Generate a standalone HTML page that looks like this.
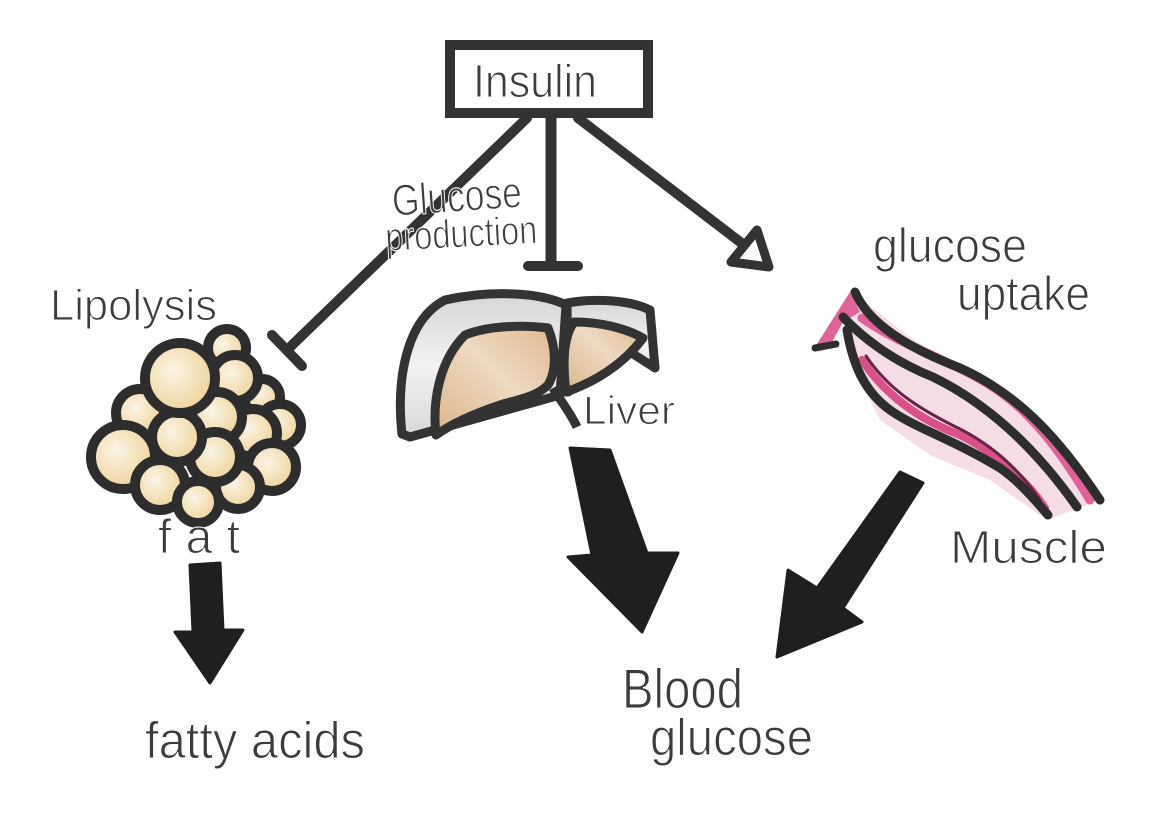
<!DOCTYPE html>
<html>
<head>
<meta charset="utf-8">
<style>
html,body{margin:0;padding:0;background:#fff;}
svg{display:block;}
text{font-family:"Liberation Sans",sans-serif;fill:#3c3c3c;stroke:#fff;stroke-width:1.1px;paint-order:normal;}
</style>
</head>
<body>
<svg width="1150" height="836" viewBox="0 0 1150 836" xmlns="http://www.w3.org/2000/svg">
<defs>
  <radialGradient id="fatg" cx="40%" cy="40%" r="65%">
    <stop offset="0" stop-color="#fbf4e6"/>
    <stop offset="0.6" stop-color="#f3dfb4"/>
    <stop offset="1" stop-color="#ecd09a"/>
  </radialGradient>
  <linearGradient id="livg" x1="0" y1="1" x2="1" y2="0">
    <stop offset="0" stop-color="#dcb68a"/>
    <stop offset="0.55" stop-color="#eed9c2"/>
    <stop offset="1" stop-color="#dfb98e"/>
  </linearGradient>
  <linearGradient id="greyg" x1="0" y1="0" x2="0" y2="1">
    <stop offset="0" stop-color="#d6d6d6"/>
    <stop offset="0.5" stop-color="#f2f2f2"/>
    <stop offset="1" stop-color="#d8d8d8"/>
  </linearGradient>
</defs>
<rect width="1150" height="836" fill="#fff"/>

<!-- Insulin box -->
<rect x="450" y="45" width="198" height="68" fill="#fff" stroke="#333" stroke-width="10"/>
<text x="473" y="97" font-size="46" textLength="124" lengthAdjust="spacingAndGlyphs">Insulin</text>

<!-- connectors -->
<g stroke="#333" stroke-linecap="round" fill="none">
  <line x1="527" y1="118" x2="287" y2="350" stroke-width="10"/>
  <line x1="272" y1="335" x2="302" y2="366" stroke-width="10"/>
  <line x1="551" y1="117" x2="551" y2="265" stroke-width="11"/>
  <line x1="528" y1="266" x2="578" y2="266" stroke-width="10"/>
  <line x1="578" y1="118" x2="748" y2="248" stroke-width="10"/>
  <polygon points="757,230 769,267 731,262" fill="#fff" stroke-width="9" stroke-linejoin="round"/>
</g>

<text transform="translate(393,216) rotate(-4)" font-size="44" textLength="130" lengthAdjust="spacingAndGlyphs">Glucose</text>
<text transform="translate(386,251) rotate(-3)" font-size="40" textLength="152" lengthAdjust="spacingAndGlyphs">production</text>

<!-- Lipolysis label -->
<text x="50" y="320" font-size="44" textLength="167" lengthAdjust="spacingAndGlyphs">Lipolysis</text>

<!-- fat cells -->
<g stroke="#2d2d2d" stroke-width="10" fill="url(#fatg)">
  <circle cx="227" cy="348" r="19"/>
  <circle cx="262" cy="397" r="18"/>
  <circle cx="235" cy="378" r="23"/>
  <circle cx="280" cy="425" r="21"/>
  <circle cx="253" cy="433" r="24"/>
  <circle cx="272" cy="467" r="24"/>
  <circle cx="238" cy="487" r="22"/>
  <circle cx="217" cy="417" r="25"/>
  <circle cx="215" cy="457" r="25"/>
  <circle cx="140" cy="413" r="24"/>
  <circle cx="177" cy="437" r="25"/>
  <circle cx="123" cy="457" r="32"/>
  <circle cx="160" cy="485" r="25"/>
  <circle cx="198" cy="502" r="21"/>
  <circle cx="180" cy="378" r="35"/>
</g>

<text x="158" y="553" font-size="48" textLength="82" lengthAdjust="spacing">fat</text>

<!-- fat arrow -->
<polygon points="190,565 220,563 223,630 243,630 210,683 175,632 193,632" fill="#1f1f1f" stroke="#1f1f1f" stroke-width="3" stroke-linejoin="round"/>
<text x="145" y="758" font-size="52" textLength="220" lengthAdjust="spacingAndGlyphs">fatty acids</text>

<!-- liver -->
<g stroke="#333" stroke-width="9" stroke-linejoin="round">
  <path d="M402,434 C396,380 406,320 445,300 C490,290 540,292 566,305 L560,395 L410,437 Z" fill="url(#greyg)"/>
  <path d="M553,388 C560,400 570,412 577,427" fill="none"/>
  <path d="M567,303 C595,298 630,300 650,310 L655,368 L630,352 L600,372 L568,392 Z" fill="url(#greyg)"/>
  <path d="M436,435 C432,400 440,360 465,335 C490,325 525,325 548,328 C557,350 556,372 548,385 C535,398 515,400 500,405 C470,415 450,425 436,435 Z" fill="url(#livg)"/>
  <path d="M566,392 C562,360 564,336 574,322 C600,322 625,328 643,338 C625,362 600,380 566,392 Z" fill="url(#livg)"/>
</g>
<text x="583" y="424" font-size="40" textLength="92" lengthAdjust="spacingAndGlyphs">Liver</text>

<!-- liver arrow -->
<polygon points="570,448 610,450 647,553 678,553 642,632 568,557 592,555" fill="#1f1f1f" stroke="#1f1f1f" stroke-width="3" stroke-linejoin="round"/>

<!-- glucose uptake -->
<text x="873" y="262" font-size="48" textLength="154" lengthAdjust="spacingAndGlyphs">glucose</text>
<text x="957" y="310" font-size="48" textLength="133" lengthAdjust="spacingAndGlyphs">uptake</text>

<!-- muscle -->
<polygon points="857,295 900,330 960,370 1020,410 1070,460 1100,500 1047,520 990,480 930,455 880,420 850,360 843,318" fill="#f5dde6"/>
<polygon points="815,347 850,292 860,312 843,322 832,342" fill="#e0649a"/>
<g fill="none" stroke-linecap="round">
  <path d="M862,318 C900,345 950,360 990,385 C1030,410 1060,450 1090,500" stroke="#e0609a" stroke-width="9"/>
  <path d="M862,360 C885,395 920,420 960,435 C1000,455 1030,485 1045,508" stroke="#d9508a" stroke-width="8"/>
  <path d="M866,356 C890,392 925,412 962,430 C1000,450 1025,478 1040,500" stroke="#6a2448" stroke-width="3"/>
  <path d="M855,292 C867,320 900,345 960,368 C1020,395 1060,440 1100,500" stroke="#2d2d2d" stroke-width="9"/>
  <path d="M843,317 C860,335 890,360 933,377 C980,400 1030,440 1077,507" stroke="#2d2d2d" stroke-width="9"/>
  <path d="M847,330 C852,360 862,390 890,410 C915,428 950,438 1000,468 C1020,482 1035,500 1048,515" stroke="#2d2d2d" stroke-width="9"/>
  <path d="M815,348 L836,344" stroke="#2d2d2d" stroke-width="7"/>
</g>
<text x="950" y="563" font-size="46" textLength="157" lengthAdjust="spacingAndGlyphs">Muscle</text>

<!-- muscle arrow -->
<polygon points="900,472 923,483 843,608 862,622 777,657 788,570 817,588" fill="#1f1f1f" stroke="#1f1f1f" stroke-width="3" stroke-linejoin="round"/>

<!-- Blood glucose -->
<text x="622" y="708" font-size="56" textLength="121" lengthAdjust="spacingAndGlyphs">Blood</text>
<text x="650" y="755" font-size="52" textLength="163" lengthAdjust="spacingAndGlyphs">glucose</text>
</svg>
</body>
</html>
